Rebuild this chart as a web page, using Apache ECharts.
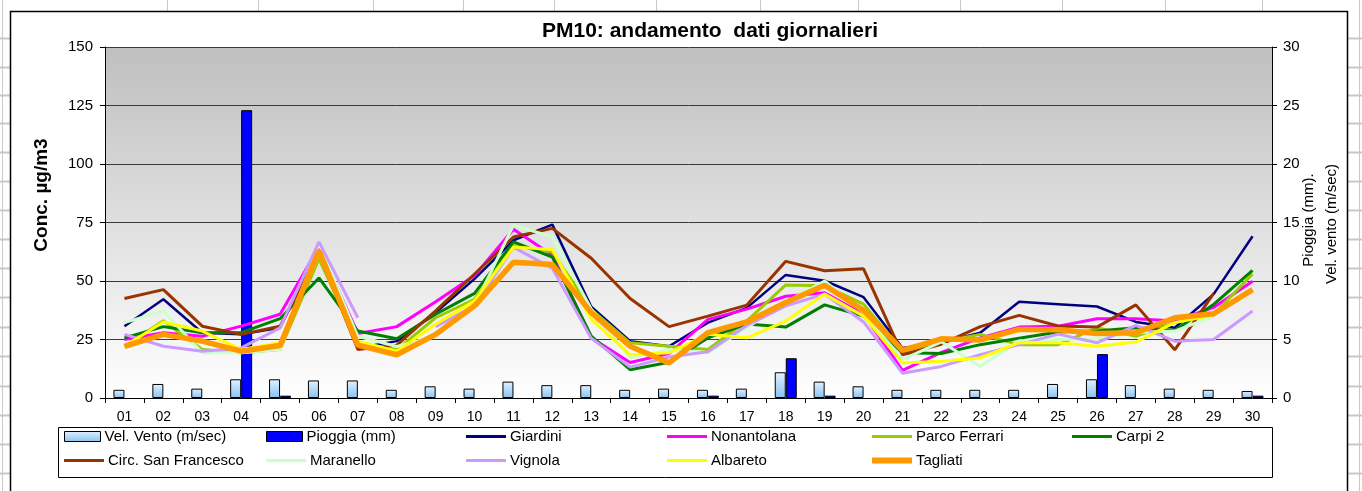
<!DOCTYPE html>
<html><head><meta charset="utf-8">
<script src="https://cdn.jsdelivr.net/npm/echarts@6/dist/echarts.min.js"></script>
<style>html,body{margin:0;padding:0;background:#fff}#c{width:1362px;height:491px}</style>
</head><body><div id="c"></div>
<script>
// ---------- DATA ----------
const days = ['01','02','03','04','05','06','07','08','09','10','11','12','13','14','15','16','17','18','19','20','21','22','23','24','25','26','27','28','29','30'];
const leftTicks = [0, 25, 50, 75, 100, 125, 150];
const rightTicks = [0, 5, 10, 15, 20, 25, 30];

const velVento = [0.7,1.2,0.8,1.6,1.6,1.5,1.5,0.7,1.0,0.8,1.4,1.1,1.1,0.7,0.8,0.7,0.8,2.2,1.4,1.0,0.7,0.7,0.7,0.7,1.2,1.6,1.1,0.8,0.7,0.6];
const pioggia = [null,null,null,24.6,0.2,null,null,null,null,null,null,null,null,null,null,0.2,null,3.4,0.2,null,null,null,null,null,null,3.75,null,null,null,0.2];

const giardini = [30.7,42.2,27.9,27.2,30,64,21.4,24.3,36.5,50.9,67.4,74.1,39,24.3,22.1,32.2,38.5,52.6,50.1,43.1,21.4,23.6,27.9,41.1,40.1,39.1,32.5,30,44.4,69.1];
const nonantolana = [25,27.9,26.4,30.7,35.8,64.5,27.6,30.5,41.1,52.3,72.1,61,25.7,15.2,19,33.6,38,43.5,45,35.8,11.8,19.5,25.7,30.3,30.7,33.9,33.9,32.9,38.7,49.9];
const parcoFerrari = [22.1,33,20.7,19.3,20.7,59.5,23.6,20.7,34.3,42.2,65.2,62.4,37.9,23.6,22.1,20.7,33,48.3,48,40.1,20,24,27.2,22.8,22.8,30,26.4,32.2,35.8,53];
const carpi2 = [25.7,30.5,27.9,27.9,33.9,51.3,28.6,25.3,35.8,44.7,66.7,60.2,26.4,12.1,15.3,25.7,31.6,30.3,39.8,35,19.3,19,22.8,25.5,28.2,28.6,30,29,40,54.5];
const circSanFrancesco = [42.5,46.3,30.7,27.2,30.7,62,20.7,22.6,37.2,53,68.8,72.5,59.7,42.5,30.5,35,39.7,58.4,54.4,55.2,18.5,23,30.5,35.3,30.8,30.3,39.8,20.6,44.7,null];
const maranello = [32.2,37.2,19.3,19.3,20.7,66,26.4,22,26.4,39.4,73.9,68.8,38,17.1,20.7,19.3,30,41,50,36.5,16.4,24,13.5,24.5,25,25.3,28,28.6,35,null];
const vignola = [27.2,22.1,20,21.4,30,66.7,34.3,null,30.5,39.4,64.5,55.4,25.5,13.2,17.5,19.8,31,39.4,44.4,32.5,10.6,13.5,18.5,22.8,27.3,23.6,31,24.3,25,37.2];
const albareto = [22.1,32.5,28.6,20.7,23.6,61.6,24.3,20,31.5,41.5,64.5,63.5,33.6,18.5,19.3,27.2,25.7,32.9,44.4,35,15,15.7,17.1,23.7,23.6,22.1,23.9,32.2,35.5,null];
const tagliati = [22.1,27.2,24.3,20,22.4,63,22.6,18.5,27.2,39.4,58,57,36.5,22.1,15,27.9,32.5,40.8,48.2,37.5,20.4,25.3,24.8,29.3,29.2,27.6,27.9,34.3,36,46.3];

// ---------- CHART ----------
const FONT = 'Liberation Sans, Arial, sans-serif';
const lineDefs = [
  {name:'Giardini', data:giardini, color:'#000080', w:2.5},
  {name:'Nonantolana', data:nonantolana, color:'#ff00ff', w:3},
  {name:'Parco Ferrari', data:parcoFerrari, color:'#99cc00', w:3},
  {name:'Carpi 2', data:carpi2, color:'#008000', w:3},
  {name:'Circ. San Francesco', data:circSanFrancesco, color:'#993300', w:3},
  {name:'Maranello', data:maranello, color:'#ccffcc', w:3},
  {name:'Vignola', data:vignola, color:'#cc99ff', w:3},
  {name:'Albareto', data:albareto, color:'#ffff00', w:3},
  {name:'Tagliati', data:tagliati, color:'#ff9900', w:5.5}
];
const ventoFill = new echarts.graphic.LinearGradient(0,0,0,1,[{offset:0,color:'#e4f1ff'},{offset:1,color:'#86c2f2'}]);

const series = [
  {name:'Vel. Vento (m/sec)', type:'bar', yAxisIndex:1, data:velVento, barWidth:11, barGap:'0%',
   itemStyle:{color:ventoFill, borderColor:'#000', borderWidth:1}, z:2},
  {name:'Pioggia (mm)', type:'bar', yAxisIndex:1, data:pioggia, barWidth:11, barGap:'0%',
   itemStyle:{color:'#0000ff', borderColor:'#000', borderWidth:1}, z:2}
].concat(lineDefs.map((d,i)=>({
  name:d.name, type:'line', yAxisIndex:0, data:d.data, showSymbol:false, symbol:'none',
  connectNulls:false, lineStyle:{color:d.color, width:d.w}, itemStyle:{color:d.color}, z:3+i
})));

// legend placement: two rows, six columns
const cols = [64, 266, 466, 667, 872, 1072];
const legendLayout = [
  ['Vel. Vento (m/sec)',0,0],['Pioggia (mm)',1,0],['Giardini',2,0],['Nonantolana',3,0],['Parco Ferrari',4,0],['Carpi 2',5,0],
  ['Circ. San Francesco',0,1],['Maranello',1,1],['Vignola',2,1],['Albareto',3,1],['Tagliati',4,1]
];
const rowCenter = [438, 462];
const legends = legendLayout.map(([name,c,r])=>{
  const isBar = name.indexOf('(m')>0;
  const ld = lineDefs.find(d=>d.name===name);
  const h = isBar ? 10 : Math.round(ld.w);
  return {
    left: cols[c], top: rowCenter[r]-9, orient:'horizontal', selectedMode:false,
    itemWidth: isBar ? 36 : 40, itemHeight: h, itemGap: 0, padding: 0,
    icon: 'rect', height: 18,
    textStyle:{color:'#000', fontSize:15, fontFamily:FONT, padding:[0,0,0,-1]},
    data:[isBar ? {name:name, itemStyle:{borderColor:'#000', borderWidth:1}} : {name:name}]
  };
});

// spreadsheet cell lines around chart
const sheet = [];
[167,258,373,463,554,656,760,858,960,1062,1165,1262].forEach(x=>{
  sheet.push({type:'line', shape:{x1:x+0.5,y1:0,x2:x+0.5,y2:11}, style:{stroke:'#c8c8c8',lineWidth:1}, silent:true});
});
[38,67,95,123,152,181,210,239,268,297,327,356,386,415,444,473].forEach(y=>{
  sheet.push({type:'line', shape:{x1:0,y1:y+0.5,x2:10,y2:y+0.5}, style:{stroke:'#c8c8c8',lineWidth:2}, silent:true});
  sheet.push({type:'line', shape:{x1:1348,y1:y+0.5,x2:1362,y2:y+0.5}, style:{stroke:'#c8c8c8',lineWidth:2}, silent:true});
});
sheet.push({type:'line', shape:{x1:2.5,y1:0,x2:2.5,y2:491}, style:{stroke:'#c8c8c8',lineWidth:1}, silent:true});
sheet.push({type:'line', shape:{x1:1359.5,y1:0,x2:1359.5,y2:491}, style:{stroke:'#c8c8c8',lineWidth:1}, silent:true});

const graphics = sheet.concat([
  {type:'rect', shape:{x:10.5,y:11.5,width:1337,height:520}, style:{fill:'none',stroke:'#000',lineWidth:1.5}, silent:true},
  {type:'rect', shape:{x:58.5,y:427.5,width:1214,height:50}, style:{fill:'none',stroke:'#000',lineWidth:1}, silent:true},
  {type:'text', x:710, y:31, style:{text:'PM10: andamento  dati giornalieri', font:'bold 21px '+FONT, fill:'#000', align:'center', verticalAlign:'middle'}, z:50},
  {type:'text', x:42, y:195, rotation:Math.PI/2, style:{text:'Conc. µg/m3', font:'bold 19px '+FONT, fill:'#000', align:'center', verticalAlign:'middle'}, z:50},
  {type:'text', x:1309, y:220, rotation:Math.PI/2, style:{text:'Pioggia (mm).', font:'15px '+FONT, fill:'#000', align:'center', verticalAlign:'middle'}, z:50},
  {type:'text', x:1332, y:224, rotation:Math.PI/2, style:{text:'Vel. vento (m/sec)', font:'15px '+FONT, fill:'#000', align:'center', verticalAlign:'middle'}, z:50}
]);

const chart = echarts.init(document.getElementById('c'), null, {renderer:'canvas'});
chart.setOption({
  animation:false,
  backgroundColor:'#ffffff',
  textStyle:{fontFamily:FONT},
  grid:{left:105, right:90, top:47, bottom:93, show:true, borderWidth:0,
        backgroundColor:new echarts.graphic.LinearGradient(0,0,0,1,[{offset:0,color:'#bfbfbf'},{offset:1,color:'#ffffff'}])},
  xAxis:{type:'category', data:days, boundaryGap:true,
    axisLine:{lineStyle:{color:'#000', width:1}},
    axisTick:{show:true, length:5, lineStyle:{color:'#000'}},
    axisLabel:{color:'#000', fontSize:14, fontFamily:FONT, margin:12, interval:0},
    splitLine:{show:false}},
  yAxis:[
    {type:'value', min:leftTicks[0], max:leftTicks[leftTicks.length-1], interval:leftTicks[1]-leftTicks[0],
     axisLine:{show:true, lineStyle:{color:'#000'}},
     axisTick:{show:true, length:5, lineStyle:{color:'#000'}},
     axisLabel:{color:'#000', fontSize:15, fontFamily:FONT, margin:12},
     splitLine:{show:true, lineStyle:{color:'#3a3a3a', width:1}}},
    {type:'value', position:'right', min:rightTicks[0], max:rightTicks[rightTicks.length-1], interval:rightTicks[1]-rightTicks[0],
     axisLine:{show:true, lineStyle:{color:'#000'}},
     axisTick:{show:true, length:5, lineStyle:{color:'#000'}},
     axisLabel:{color:'#000', fontSize:15, fontFamily:FONT, margin:11},
     splitLine:{show:false}}
  ],
  legend:legends,
  graphic:graphics,
  series:series
});
</script></body></html>
